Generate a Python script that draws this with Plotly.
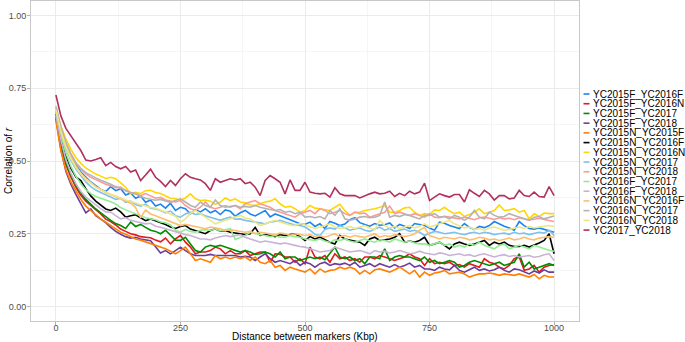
import plotly.graph_objects as go

# ── Data ──────────────────────────────────────────────────────────────────
DIST_KBP = list(range(0, 1001, 10))

SERIES_NAMES = [
    "YC2015F_YC2016F", "YC2015F_YC2016N", "YC2015F_YC2017", "YC2015F_YC2018",
    "YC2015N_YC2015F", "YC2015N_YC2016F", "YC2015N_YC2016N", "YC2015N_YC2017",
    "YC2015N_YC2018", "YC2016F_YC2017", "YC2016F_YC2018", "YC2016N_YC2016F",
    "YC2016N_YC2017", "YC2016N_YC2018", "YC2017_YC2018",
]

SERIES_COLORS = [
    "#1C86EE", "#E31A1C", "#008B00", "#6A3D9A", "#FF7F00", "#000000",
    "#FFD700", "#7EC0EE", "#FB9A99", "#90EE90", "#CAB2D6", "#FDBF6F",
    "#B3B3B3", "#EEE685", "#B03060",
]

r_2015F_2016F = [
    0.672, 0.602, 0.553, 0.515, 0.488, 0.462, 0.445, 0.428, 0.415, 0.402,
    0.395, 0.412, 0.398, 0.405, 0.383, 0.390, 0.372, 0.380, 0.358, 0.366,
    0.345, 0.352, 0.338, 0.355, 0.330, 0.341, 0.336, 0.318, 0.333, 0.325,
    0.336, 0.322, 0.330, 0.316, 0.332, 0.327, 0.310, 0.322, 0.330, 0.318,
    0.311, 0.322, 0.330, 0.308, 0.318, 0.312, 0.305, 0.298, 0.290, 0.284,
    0.282, 0.290, 0.275, 0.284, 0.268, 0.292, 0.286, 0.278, 0.283, 0.298,
    0.305, 0.288, 0.282, 0.276, 0.285, 0.279, 0.281, 0.287, 0.270, 0.282,
    0.276, 0.268, 0.285, 0.282, 0.278, 0.270, 0.262, 0.290, 0.286, 0.278,
    0.272, 0.268, 0.285, 0.272, 0.264, 0.275, 0.271, 0.278, 0.292, 0.283,
    0.276, 0.270, 0.262, 0.292, 0.278, 0.268, 0.266, 0.270, 0.265, 0.262,
    0.255,
]
r_2015F_2016N = [
    0.652, 0.560, 0.488, 0.445, 0.410, 0.382, 0.362, 0.348, 0.335, 0.318,
    0.300, 0.292, 0.280, 0.266, 0.258, 0.250, 0.246, 0.240, 0.238, 0.236,
    0.228, 0.222, 0.235, 0.215, 0.232, 0.244, 0.221, 0.204, 0.181, 0.187,
    0.187, 0.192, 0.204, 0.198, 0.181, 0.192, 0.181, 0.181, 0.192, 0.175,
    0.181, 0.187, 0.187, 0.152, 0.181, 0.179, 0.170, 0.170, 0.152, 0.164,
    0.147, 0.204, 0.170, 0.164, 0.175, 0.152, 0.181, 0.164, 0.170, 0.158,
    0.164, 0.152, 0.170, 0.170, 0.164, 0.175, 0.170, 0.164, 0.158, 0.164,
    0.170, 0.181, 0.170, 0.164, 0.141, 0.164, 0.147, 0.152, 0.147, 0.152,
    0.141, 0.144, 0.135, 0.147, 0.141, 0.135, 0.164, 0.152, 0.147, 0.135,
    0.129, 0.141, 0.164, 0.170, 0.124, 0.129, 0.141, 0.118, 0.135, 0.141,
    0.144,
]
r_2015F_2017 = [
    0.655, 0.565, 0.495, 0.452, 0.418, 0.390, 0.368, 0.350, 0.335, 0.322,
    0.308, 0.296, 0.285, 0.278, 0.268, 0.290, 0.275, 0.282, 0.272, 0.262,
    0.258, 0.250, 0.262, 0.245, 0.228, 0.227, 0.238, 0.215, 0.192, 0.187,
    0.204, 0.210, 0.206, 0.210, 0.204, 0.198, 0.192, 0.187, 0.192, 0.187,
    0.179, 0.181, 0.187, 0.181, 0.170, 0.187, 0.164, 0.170, 0.170, 0.158,
    0.164, 0.170, 0.164, 0.170, 0.161, 0.181, 0.204, 0.170, 0.164, 0.170,
    0.158, 0.164, 0.147, 0.170, 0.170, 0.164, 0.198, 0.158, 0.170, 0.175,
    0.170, 0.170, 0.164, 0.158, 0.170, 0.152, 0.158, 0.147, 0.152, 0.158,
    0.152, 0.135, 0.141, 0.152, 0.158, 0.152, 0.147, 0.141, 0.147, 0.152,
    0.141, 0.147, 0.152, 0.181, 0.135, 0.152, 0.129, 0.135, 0.141, 0.147,
    0.141,
]
r_2015F_2018 = [
    0.645, 0.540, 0.465, 0.420, 0.385, 0.355, 0.322, 0.335, 0.312, 0.300,
    0.288, 0.272, 0.258, 0.248, 0.240, 0.235, 0.238, 0.232, 0.228, 0.226,
    0.205, 0.184, 0.192, 0.181, 0.192, 0.204, 0.192, 0.181, 0.175, 0.175,
    0.175, 0.179, 0.175, 0.175, 0.175, 0.175, 0.175, 0.170, 0.172, 0.170,
    0.158, 0.170, 0.181, 0.164, 0.152, 0.158, 0.152, 0.147, 0.158, 0.141,
    0.152, 0.147, 0.135, 0.147, 0.152, 0.141, 0.147, 0.144, 0.149, 0.141,
    0.152, 0.135, 0.141, 0.147, 0.137, 0.147, 0.141, 0.135, 0.144, 0.135,
    0.141, 0.149, 0.135, 0.141, 0.129, 0.129, 0.124, 0.135, 0.129, 0.126,
    0.141, 0.124, 0.118, 0.126, 0.135, 0.124, 0.129, 0.122, 0.126, 0.135,
    0.124, 0.118, 0.129, 0.126, 0.118, 0.112, 0.122, 0.115, 0.126, 0.118,
    0.118,
]
r_2015N_2015F = [
    0.640, 0.535, 0.470, 0.428, 0.398, 0.368, 0.345, 0.330, 0.318, 0.300,
    0.290, 0.278, 0.268, 0.255, 0.248, 0.240, 0.232, 0.228, 0.222, 0.218,
    0.212, 0.205, 0.198, 0.190, 0.181, 0.192, 0.204, 0.181, 0.158, 0.164,
    0.158, 0.152, 0.175, 0.164, 0.170, 0.164, 0.170, 0.164, 0.170, 0.158,
    0.170, 0.152, 0.147, 0.158, 0.135, 0.141, 0.124, 0.135, 0.129, 0.124,
    0.118, 0.129, 0.112, 0.129, 0.118, 0.124, 0.126, 0.135, 0.129, 0.135,
    0.129, 0.112, 0.124, 0.112, 0.126, 0.129, 0.124, 0.118, 0.126, 0.135,
    0.124, 0.112, 0.124, 0.101, 0.118, 0.107, 0.115, 0.118, 0.124, 0.112,
    0.115, 0.118, 0.112, 0.101, 0.107, 0.112, 0.112, 0.115, 0.112, 0.107,
    0.112, 0.110, 0.107, 0.112, 0.107, 0.101, 0.110, 0.095, 0.107, 0.101,
    0.101,
]
r_2015N_2016F = [
    0.662, 0.580, 0.518, 0.475, 0.445, 0.433, 0.405, 0.380, 0.362, 0.347,
    0.335, 0.330, 0.338, 0.325, 0.307, 0.312, 0.315, 0.305, 0.295, 0.301,
    0.295, 0.290, 0.282, 0.273, 0.268, 0.275, 0.278, 0.266, 0.261, 0.255,
    0.250, 0.261, 0.267, 0.259, 0.261, 0.255, 0.252, 0.250, 0.247, 0.250,
    0.272, 0.244, 0.247, 0.244, 0.240, 0.247, 0.244, 0.247, 0.250, 0.240,
    0.227, 0.240, 0.232, 0.238, 0.229, 0.221, 0.215, 0.244, 0.232, 0.229,
    0.225, 0.221, 0.210, 0.232, 0.238, 0.227, 0.229, 0.232, 0.238, 0.250,
    0.221, 0.225, 0.221, 0.227, 0.238, 0.210, 0.215, 0.221, 0.210, 0.198,
    0.215, 0.221, 0.215, 0.210, 0.215, 0.221, 0.227, 0.210, 0.221, 0.215,
    0.221, 0.210, 0.206, 0.206, 0.210, 0.204, 0.210, 0.218, 0.227, 0.250,
    0.181,
]
r_2015N_2016N = [
    0.685, 0.620, 0.575, 0.540, 0.512, 0.492, 0.476, 0.465, 0.455, 0.448,
    0.440, 0.444, 0.439, 0.425, 0.410, 0.387, 0.392, 0.388, 0.398, 0.399,
    0.392, 0.388, 0.380, 0.372, 0.370, 0.366, 0.373, 0.387, 0.370, 0.364,
    0.366, 0.362, 0.351, 0.359, 0.373, 0.364, 0.370, 0.359, 0.356, 0.349,
    0.347, 0.353, 0.359, 0.362, 0.370, 0.353, 0.341, 0.344, 0.336, 0.324,
    0.330, 0.347, 0.338, 0.336, 0.332, 0.330, 0.341, 0.351, 0.330, 0.313,
    0.324, 0.324, 0.330, 0.332, 0.336, 0.341, 0.347, 0.324, 0.324, 0.330,
    0.339, 0.341, 0.324, 0.313, 0.319, 0.316, 0.332, 0.330, 0.341, 0.328,
    0.319, 0.324, 0.309, 0.316, 0.324, 0.336, 0.319, 0.324, 0.330, 0.349,
    0.330, 0.332, 0.336, 0.324, 0.330, 0.301, 0.319, 0.309, 0.321, 0.319,
    0.319,
]
r_2015N_2017 = [
    0.675, 0.598, 0.542, 0.503, 0.472, 0.448, 0.428, 0.412, 0.400, 0.392,
    0.383, 0.376, 0.368, 0.372, 0.358, 0.362, 0.350, 0.345, 0.352, 0.338,
    0.335, 0.330, 0.322, 0.328, 0.312, 0.307, 0.318, 0.324, 0.316, 0.319,
    0.312, 0.307, 0.300, 0.296, 0.302, 0.307, 0.300, 0.301, 0.296, 0.293,
    0.290, 0.286, 0.284, 0.290, 0.292, 0.296, 0.290, 0.284, 0.280, 0.278,
    0.273, 0.262, 0.248, 0.244, 0.265, 0.270, 0.266, 0.278, 0.270, 0.262,
    0.266, 0.270, 0.262, 0.258, 0.266, 0.273, 0.262, 0.268, 0.258, 0.262,
    0.266, 0.258, 0.262, 0.255, 0.244, 0.252, 0.258, 0.255, 0.250, 0.252,
    0.255, 0.250, 0.247, 0.252, 0.255, 0.250, 0.255, 0.252, 0.247, 0.250,
    0.252, 0.248, 0.255, 0.250, 0.252, 0.247, 0.250, 0.255, 0.252, 0.262,
    0.244,
]
r_2015N_2018 = [
    0.672, 0.605, 0.556, 0.520, 0.492, 0.472, 0.456, 0.444, 0.436, 0.428,
    0.420, 0.415, 0.408, 0.410, 0.398, 0.392, 0.386, 0.381, 0.388, 0.380,
    0.372, 0.375, 0.366, 0.362, 0.359, 0.364, 0.347, 0.336, 0.330, 0.341,
    0.359, 0.341, 0.336, 0.341, 0.347, 0.341, 0.347, 0.336, 0.353, 0.359,
    0.364, 0.353, 0.347, 0.341, 0.330, 0.324, 0.319, 0.313, 0.307, 0.319,
    0.324, 0.330, 0.319, 0.336, 0.330, 0.319, 0.324, 0.330, 0.319, 0.313,
    0.324, 0.319, 0.321, 0.307, 0.313, 0.319, 0.324, 0.345, 0.319, 0.324,
    0.319, 0.313, 0.319, 0.313, 0.307, 0.319, 0.307, 0.305, 0.310, 0.307,
    0.305, 0.301, 0.307, 0.303, 0.298, 0.305, 0.307, 0.303, 0.299, 0.305,
    0.301, 0.303, 0.298, 0.305, 0.301, 0.297, 0.300, 0.303, 0.299, 0.296,
    0.292,
]
r_2016F_2017 = [
    0.665, 0.588, 0.528, 0.482, 0.448, 0.422, 0.402, 0.388, 0.378, 0.372,
    0.368, 0.360, 0.352, 0.340, 0.332, 0.325, 0.318, 0.312, 0.305, 0.301,
    0.298, 0.290, 0.288, 0.280, 0.262, 0.255, 0.265, 0.258, 0.255, 0.262,
    0.264, 0.261, 0.267, 0.260, 0.264, 0.267, 0.230, 0.238, 0.244, 0.255,
    0.250, 0.247, 0.244, 0.240, 0.244, 0.238, 0.238, 0.244, 0.240, 0.238,
    0.232, 0.229, 0.227, 0.232, 0.225, 0.221, 0.229, 0.227, 0.232, 0.225,
    0.221, 0.227, 0.232, 0.225, 0.221, 0.229, 0.227, 0.221, 0.232, 0.227,
    0.221, 0.225, 0.218, 0.215, 0.215, 0.210, 0.215, 0.221, 0.210, 0.215,
    0.204, 0.210, 0.204, 0.215, 0.210, 0.221, 0.210, 0.204, 0.198, 0.210,
    0.215, 0.198, 0.204, 0.210, 0.204, 0.198, 0.210, 0.204, 0.198, 0.193,
    0.190,
]
r_2016F_2018 = [
    0.655, 0.572, 0.505, 0.458, 0.422, 0.395, 0.376, 0.362, 0.350, 0.336,
    0.325, 0.324, 0.312, 0.301, 0.305, 0.296, 0.292, 0.288, 0.284, 0.286,
    0.276, 0.272, 0.267, 0.262, 0.255, 0.250, 0.247, 0.244, 0.238, 0.232,
    0.232, 0.229, 0.235, 0.240, 0.244, 0.240, 0.244, 0.247, 0.238, 0.232,
    0.227, 0.221, 0.225, 0.221, 0.218, 0.215, 0.218, 0.215, 0.210, 0.206,
    0.204, 0.198, 0.192, 0.187, 0.190, 0.192, 0.204, 0.198, 0.192, 0.187,
    0.190, 0.192, 0.187, 0.181, 0.192, 0.187, 0.190, 0.184, 0.187, 0.192,
    0.187, 0.181, 0.184, 0.190, 0.184, 0.181, 0.178, 0.184, 0.181, 0.175,
    0.178, 0.181, 0.175, 0.178, 0.172, 0.178, 0.181, 0.175, 0.170, 0.175,
    0.178, 0.172, 0.175, 0.170, 0.172, 0.175, 0.169, 0.172, 0.178, 0.181,
    0.158,
]
r_2016N_2016F = [
    0.682, 0.608, 0.552, 0.512, 0.482, 0.458, 0.440, 0.426, 0.412, 0.402,
    0.392, 0.385, 0.378, 0.370, 0.362, 0.355, 0.340, 0.305, 0.332, 0.318,
    0.312, 0.305, 0.298, 0.290, 0.284, 0.278, 0.282, 0.278, 0.273, 0.270,
    0.267, 0.273, 0.270, 0.267, 0.261, 0.264, 0.261, 0.258, 0.255, 0.258,
    0.250, 0.255, 0.252, 0.250, 0.247, 0.252, 0.250, 0.245, 0.250, 0.247,
    0.244, 0.247, 0.240, 0.244, 0.238, 0.244, 0.250, 0.240, 0.244, 0.238,
    0.244, 0.240, 0.238, 0.244, 0.250, 0.238, 0.244, 0.240, 0.247, 0.244,
    0.240, 0.244, 0.250, 0.262, 0.272, 0.244, 0.238, 0.232, 0.238, 0.235,
    0.232, 0.238, 0.235, 0.229, 0.232, 0.238, 0.235, 0.229, 0.232, 0.227,
    0.232, 0.235, 0.229, 0.232, 0.238, 0.232, 0.229, 0.235, 0.238, 0.240,
    0.238,
]
r_2016N_2017 = [
    0.688, 0.618, 0.565, 0.525, 0.495, 0.475, 0.460, 0.450, 0.442, 0.434,
    0.428, 0.420, 0.412, 0.405, 0.398, 0.392, 0.388, 0.378, 0.372, 0.368,
    0.365, 0.368, 0.362, 0.358, 0.364, 0.370, 0.359, 0.347, 0.341, 0.359,
    0.347, 0.341, 0.366, 0.347, 0.341, 0.344, 0.347, 0.341, 0.344, 0.341,
    0.347, 0.341, 0.336, 0.333, 0.330, 0.333, 0.324, 0.327, 0.319, 0.324,
    0.307, 0.309, 0.305, 0.309, 0.301, 0.330, 0.313, 0.336, 0.301, 0.296,
    0.301, 0.307, 0.309, 0.305, 0.307, 0.313, 0.359, 0.307, 0.313, 0.309,
    0.316, 0.313, 0.307, 0.301, 0.313, 0.313, 0.319, 0.307, 0.309, 0.301,
    0.313, 0.307, 0.296, 0.307, 0.330, 0.307, 0.301, 0.324, 0.313, 0.307,
    0.309, 0.319, 0.313, 0.307, 0.301, 0.296, 0.307, 0.309, 0.301, 0.307,
    0.311,
]
r_2016N_2018 = [
    0.676, 0.602, 0.548, 0.508, 0.478, 0.455, 0.437, 0.422, 0.410, 0.401,
    0.393, 0.386, 0.380, 0.372, 0.366, 0.362, 0.355, 0.350, 0.345, 0.340,
    0.338, 0.332, 0.325, 0.318, 0.310, 0.290, 0.301, 0.320, 0.330, 0.318,
    0.306, 0.296, 0.284, 0.290, 0.296, 0.301, 0.307, 0.313, 0.304, 0.301,
    0.290, 0.278, 0.284, 0.290, 0.296, 0.290, 0.284, 0.280, 0.278, 0.286,
    0.280, 0.275, 0.268, 0.273, 0.278, 0.284, 0.273, 0.268, 0.270, 0.275,
    0.268, 0.273, 0.278, 0.270, 0.264, 0.296, 0.278, 0.270, 0.275, 0.268,
    0.273, 0.278, 0.270, 0.275, 0.284, 0.273, 0.278, 0.284, 0.290, 0.296,
    0.284, 0.278, 0.270, 0.273, 0.265, 0.268, 0.262, 0.270, 0.273, 0.268,
    0.262, 0.265, 0.270, 0.273, 0.268, 0.275, 0.270, 0.273, 0.276, 0.278,
    0.275,
]
r_2017_2018 = [
    0.727, 0.655, 0.612, 0.588, 0.560, 0.536, 0.503, 0.500, 0.505, 0.511,
    0.484, 0.495, 0.481, 0.473, 0.481, 0.462, 0.469, 0.433, 0.452, 0.472,
    0.444, 0.430, 0.412, 0.433, 0.416, 0.439, 0.456, 0.444, 0.439, 0.435,
    0.422, 0.399, 0.439, 0.427, 0.433, 0.439, 0.435, 0.439, 0.422, 0.427,
    0.410, 0.381, 0.433, 0.450, 0.439, 0.427, 0.387, 0.435, 0.399, 0.399,
    0.427, 0.393, 0.389, 0.387, 0.389, 0.376, 0.408, 0.387, 0.381, 0.381,
    0.381, 0.373, 0.381, 0.387, 0.393, 0.387, 0.389, 0.396, 0.378, 0.389,
    0.381, 0.396, 0.387, 0.393, 0.424, 0.364, 0.376, 0.387, 0.381, 0.376,
    0.385, 0.385, 0.359, 0.401, 0.389, 0.378, 0.399, 0.387, 0.366, 0.381,
    0.381, 0.370, 0.373, 0.399, 0.381, 0.378, 0.393, 0.378, 0.376, 0.412,
    0.381,
]

SERIES_VALUES = [
    r_2015F_2016F, r_2015F_2016N, r_2015F_2017, r_2015F_2018,
    r_2015N_2015F, r_2015N_2016F, r_2015N_2016N, r_2015N_2017,
    r_2015N_2018, r_2016F_2017, r_2016F_2018, r_2016N_2016F,
    r_2016N_2017, r_2016N_2018, r_2017_2018,
]

X_TICKS = [0, 250, 500, 750, 1000]
Y_TICKS = [0.0, 0.25, 0.5, 0.75, 1.0]

# ── Layout constants (pixels) ─────────────────────────────────────────────
W, H = 685, 342
M_L, M_R, M_T, M_B = 31, 106, 1, 21
PLOT_W = W - M_L - M_R
PLOT_H = H - M_T - M_B
FONT = "Liberation Sans, Arial, Helvetica, sans-serif"


def px_x(p):
    return (p - M_L) / PLOT_W


def px_y(p):
    return (H - M_B - p) / PLOT_H


fig = go.Figure()

for name, col, vals in zip(SERIES_NAMES, SERIES_COLORS, SERIES_VALUES):
    fig.add_trace(go.Scatter(
        x=DIST_KBP, y=vals, mode="lines", name=name,
        line=dict(color=col, width=1.6),
        showlegend=False,
    ))

# ── Hand-built legend (ggplot spacing is tighter than plotly's) ───────────
annotations = []
shapes = []
LEG_TOP, LEG_STEP = 94.0, 9.72
for i, (name, col) in enumerate(zip(SERIES_NAMES, SERIES_COLORS)):
    yp = px_y(LEG_TOP + i * LEG_STEP)
    shapes.append(dict(
        type="line", xref="paper", yref="paper",
        x0=px_x(583.5), x1=px_x(589.5), y0=yp, y1=yp,
        line=dict(color=col, width=1.6),
    ))
    annotations.append(dict(
        text=name, xref="paper", yref="paper",
        x=px_x(591.5), y=yp, xanchor="left", yanchor="middle",
        borderpad=0,
        showarrow=False, font=dict(size=10, color="#000000", family=FONT),
    ))

annotations.append(dict(
    text="Distance between markers (Kbp)", xref="paper", yref="paper",
    x=0.5, y=px_y(336.5), xanchor="center", yanchor="middle", showarrow=False,
    font=dict(size=10, color="#000000", family=FONT),
))
annotations.append(dict(
    text="Correlation of <i>r</i>", xref="paper", yref="paper",
    x=px_x(8), y=0.5, xanchor="center", yanchor="middle", showarrow=False,
    textangle=-90, font=dict(size=10, color="#000000", family=FONT),
))

fig.update_layout(
    width=W, height=H,
    margin=dict(l=M_L, r=M_R, t=M_T, b=M_B),
    paper_bgcolor="white",
    plot_bgcolor="white",
    font=dict(family=FONT, size=9, color="#4D4D4D"),
    showlegend=False,
    annotations=annotations,
    shapes=shapes,
    xaxis=dict(
        range=[-50, 1050],
        tickvals=X_TICKS,
        ticks="outside", ticklen=3, tickcolor="#B3B3B3", tickwidth=1,
        ticklabelstandoff=-5,
        tickfont=dict(size=9, color="#4D4D4D", family=FONT),
        showgrid=True, gridcolor="#EBEBEB", gridwidth=1,
        minor=dict(dtick=125, tick0=0, showgrid=True,
                   gridcolor="#F5F5F5", gridwidth=1, ticks=""),
        showline=True, mirror=True, linecolor="#C8C8C8", linewidth=1,
        zeroline=False,
    ),
    yaxis=dict(
        range=[-0.05, 1.05],
        tickvals=Y_TICKS,
        tickformat=".2f",
        ticks="outside", ticklen=3, tickcolor="#B3B3B3", tickwidth=1,
        ticklabelstandoff=-1,
        tickfont=dict(size=9, color="#4D4D4D", family=FONT),
        showgrid=True, gridcolor="#EBEBEB", gridwidth=1,
        minor=dict(dtick=0.125, tick0=0, showgrid=True,
                   gridcolor="#F5F5F5", gridwidth=1, ticks=""),
        showline=True, mirror=True, linecolor="#C8C8C8", linewidth=1,
        zeroline=False,
    ),
)

# the page's default 8px body margin would shift the figure; drop it
fig.write_html("out.html",
               config={"displayModeBar": False},
               post_script="document.body.style.margin='0';")
